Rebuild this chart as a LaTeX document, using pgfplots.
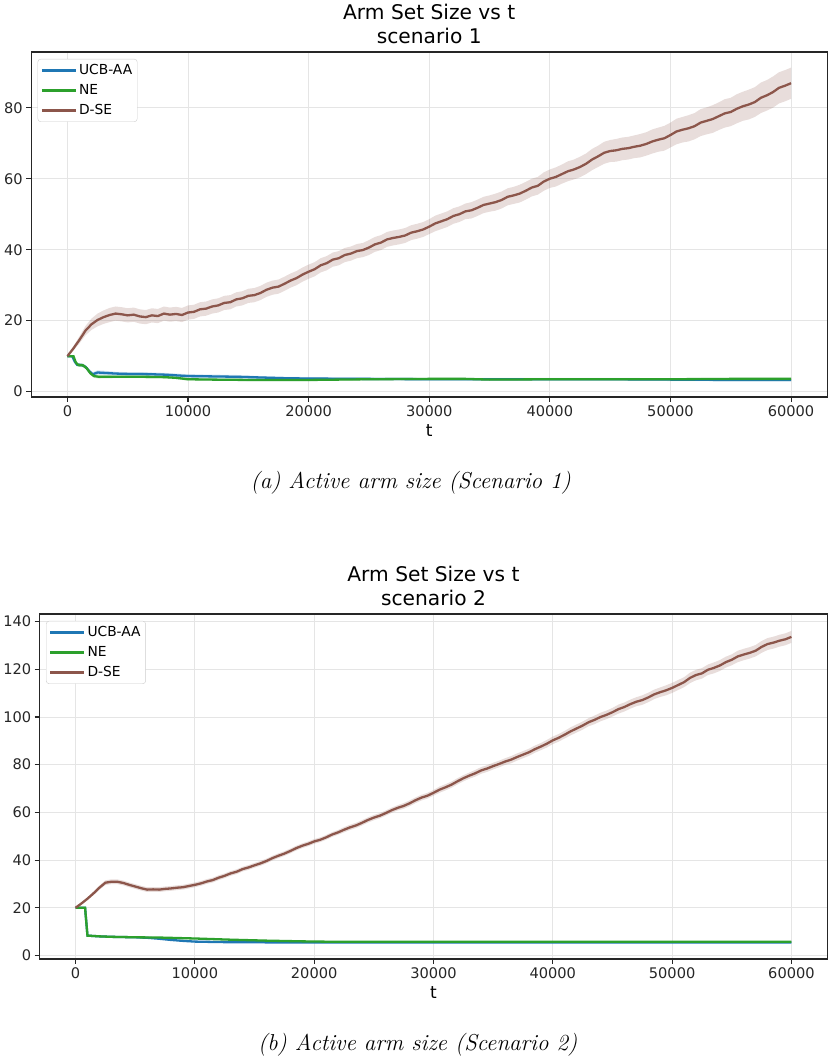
\documentclass[border=0pt]{standalone}
\usepackage{pgfplots}
\pgfplotsset{compat=1.18}
\usepackage{pgfplotstable}
\usepgfplotslibrary{fillbetween}
\usepackage{fontspec}
\newfontfamily\dv{DejaVu Sans}
\definecolor{cblue}{HTML}{1F77B4}
\definecolor{cgreen}{HTML}{2CA02C}
\definecolor{cbrown}{HTML}{8C564B}
\definecolor{axc}{HTML}{262626}

\pgfplotstableread{
t m w
0 10.0 0.2
500 12.2 0.6
1000 14.6 1.0
1500 17.2 1.3
2000 19.0 1.6
2500 20.2 1.8
3000 21.0 1.9
3500 21.6 2.0
4000 22.0 2.0
4500 21.8 2.0
5000 21.5 2.0
5500 21.7 2.0
6000 21.2 2.0
6500 21.0 2.0
7000 21.5 2.0
7500 21.3 2.0
8000 22.0 2.0
8500 21.7 2.0
9000 21.9 2.0
9500 21.6 2.0
10000 22.3 2.0
10500 22.5 2.0
11000 23.2 2.0
11500 23.4 2.0
12000 24.0 2.0
12500 24.3 2.0
13000 25.0 2.0
13500 25.2 2.0
14000 26.0 2.0
14500 26.3 2.0
15000 27.0 2.0
15500 27.2 2.0
16000 27.8 2.0
16500 28.7 2.0
17000 29.3 2.0
17500 29.6 2.0
18000 30.4 2.0
18500 31.3 2.0
19000 32.0 2.0
19500 33.0 2.0
20000 33.8 2.0
20500 34.5 2.0
21000 35.6 2.0
21500 36.2 2.0
22000 37.2 2.0
22500 37.6 2.0
23000 38.5 2.0
23500 38.9 2.0
24000 39.6 2.0
24500 39.9 2.0
25000 40.6 2.1
25500 41.5 2.1
26000 42.0 2.1
26500 42.9 2.1
27000 43.3 2.1
27500 43.6 2.1
28000 44.0 2.1
28500 44.8 2.1
29000 45.2 2.1
29500 45.7 2.1
30000 46.5 2.1
30500 47.4 2.2
31000 48.0 2.2
31500 48.6 2.2
32000 49.5 2.2
32500 50.0 2.2
33000 50.8 2.2
33500 51.1 2.3
34000 51.8 2.3
34500 52.6 2.3
35000 53.0 2.3
35500 53.4 2.4
36000 54.0 2.4
36500 54.9 2.4
37000 55.3 2.4
37500 55.8 2.5
38000 56.6 2.5
38500 57.5 2.5
39000 58.0 2.5
39500 59.2 2.6
40000 60.0 2.6
40500 60.5 2.7
41000 61.3 2.7
41500 62.1 2.8
42000 62.6 2.8
42500 63.3 2.9
43000 64.2 2.9
43500 65.4 3.0
44000 66.3 3.0
44500 67.3 3.1
45000 67.8 3.1
45500 68.0 3.2
46000 68.4 3.2
46500 68.6 3.2
47000 69.0 3.2
47500 69.3 3.3
48000 69.8 3.3
48500 70.5 3.4
49000 71.0 3.4
49500 71.4 3.5
50000 72.3 3.5
50500 73.3 3.6
51000 73.8 3.6
51500 74.2 3.7
52000 74.8 3.7
52500 75.8 3.8
53000 76.3 3.8
53500 76.8 3.9
54000 77.6 3.9
54500 78.4 4.0
55000 78.8 4.0
55500 79.7 4.1
56000 80.4 4.1
56500 80.9 4.2
57000 81.6 4.2
57500 82.8 4.3
58000 83.5 4.3
58500 84.4 4.4
59000 85.6 4.4
59500 86.2 4.4
60000 86.9 4.4
}\dseA

\pgfplotstableread{
t m w
0 10.0 0.1
400 10.0 0.2
600 8.5 0.4
800 7.6 0.5
1200 7.5 0.5
1500 7.0 0.5
1800 5.8 0.6
2100 4.9 0.6
2500 5.4 0.6
3000 5.3 0.6
4000 5.1 0.5
5000 5.0 0.5
6000 5.0 0.5
7000 4.9 0.5
8000 4.8 0.5
9000 4.6 0.5
10000 4.4 0.5
12000 4.3 0.5
14000 4.2 0.5
16000 4.0 0.4
18000 3.8 0.4
20000 3.7 0.4
25000 3.6 0.4
30000 3.5 0.4
35000 3.5 0.4
40000 3.5 0.4
45000 3.5 0.4
50000 3.4 0.4
55000 3.3 0.4
60000 3.3 0.4
}\ucbA

\pgfplotstableread{
t m w
0 10.0 0.1
500 10.0 0.2
700 8.2 0.4
900 7.5 0.5
1300 7.4 0.5
1600 6.6 0.5
1900 5.2 0.5
2200 4.4 0.5
2600 4.2 0.5
4000 4.2 0.4
6000 4.2 0.4
8000 4.1 0.4
9000 3.9 0.4
10000 3.5 0.4
12000 3.4 0.3
15000 3.3 0.3
20000 3.3 0.3
25000 3.5 0.3
30000 3.6 0.3
33000 3.6 0.3
35000 3.4 0.3
40000 3.5 0.3
45000 3.5 0.3
50000 3.5 0.3
55000 3.6 0.3
60000 3.6 0.3
}\neA

\pgfplotstableread{
t m w
0 20.0 0.2
500 21.8 0.4
1000 23.8 0.6
1500 26.0 0.8
2000 28.4 0.9
2500 30.5 1.0
3000 30.9 1.0
3500 30.9 1.0
4000 30.4 1.0
4500 29.6 1.0
5000 28.9 1.0
5500 28.2 1.0
6000 27.6 1.0
6500 27.7 1.0
7000 27.6 1.0
7500 27.9 1.0
8000 28.1 1.0
8500 28.4 1.0
9000 28.6 1.0
9500 29.1 1.0
10000 29.6 1.0
10500 30.2 1.0
11000 31.0 1.0
11500 31.6 1.0
12000 32.6 1.0
12500 33.4 1.0
13000 34.4 1.0
13500 35.1 1.0
14000 36.2 1.0
14500 36.9 1.0
15000 37.8 1.0
15500 38.6 1.0
16000 39.6 1.0
16500 40.8 1.0
17000 41.8 1.0
17500 42.7 1.0
18000 43.8 1.0
18500 45.0 1.0
19000 46.0 1.0
19500 46.8 1.0
20000 47.8 1.0
20500 48.5 1.0
21000 49.5 1.0
21500 50.7 1.0
22000 51.6 1.0
22500 52.7 1.1
23000 53.7 1.1
23500 54.5 1.1
24000 55.6 1.1
24500 56.8 1.1
25000 57.8 1.1
25500 58.6 1.1
26000 59.7 1.1
26500 60.9 1.1
27000 61.9 1.1
27500 62.7 1.2
28000 63.8 1.2
28500 65.1 1.2
29000 66.2 1.2
29500 67.0 1.2
30000 68.2 1.2
30500 69.5 1.3
31000 70.5 1.3
31500 71.6 1.3
32000 73.0 1.3
32500 74.3 1.3
33000 75.4 1.3
33500 76.4 1.4
34000 77.6 1.4
34500 78.4 1.4
35000 79.4 1.4
35500 80.3 1.4
36000 81.3 1.4
36500 82.1 1.5
37000 83.2 1.5
37500 84.2 1.5
38000 85.2 1.5
38500 86.5 1.5
39000 87.6 1.5
39500 88.8 1.6
40000 90.2 1.6
40500 91.3 1.6
41000 92.6 1.6
41500 94.0 1.7
42000 95.2 1.7
42500 96.4 1.7
43000 97.8 1.7
43500 98.8 1.8
44000 100.0 1.8
44500 100.9 1.8
45000 102.0 1.8
45500 103.3 1.9
46000 104.2 1.9
46500 105.4 1.9
47000 106.4 1.9
47500 107.1 2.0
48000 108.2 2.0
48500 109.5 2.0
49000 110.4 2.0
49500 111.2 2.1
50000 112.2 2.1
50500 113.4 2.1
51000 114.6 2.1
51500 116.4 2.2
52000 117.6 2.2
52500 118.3 2.2
53000 119.8 2.2
53500 120.6 2.3
54000 121.6 2.3
54500 123.0 2.3
55000 124.0 2.3
55500 125.4 2.4
56000 126.2 2.4
56500 126.9 2.4
57000 127.8 2.4
57500 129.4 2.5
58000 130.6 2.5
58500 131.2 2.5
59000 132.0 2.5
59500 132.6 2.5
60000 133.6 2.5
}\dseB

\pgfplotstableread{
t m w
0 20.0 0.1
800 20.0 0.1
1000 8.3 0.2
2000 8.0 0.2
3000 7.8 0.2
4000 7.7 0.2
5000 7.6 0.2
6000 7.4 0.2
7000 7.0 0.2
8000 6.5 0.2
9000 6.1 0.2
10000 5.8 0.2
12000 5.6 0.2
15000 5.5 0.2
20000 5.4 0.2
30000 5.4 0.2
40000 5.4 0.2
50000 5.4 0.2
60000 5.4 0.2
}\ucbB

\pgfplotstableread{
t m w
0 20.0 0.1
800 20.0 0.1
1000 8.3 0.2
2000 8.0 0.2
3000 7.8 0.2
5000 7.6 0.2
7000 7.5 0.2
10000 7.1 0.2
13000 6.6 0.2
16000 6.2 0.2
19000 5.9 0.2
22000 5.7 0.2
30000 5.7 0.2
40000 5.7 0.2
50000 5.7 0.2
60000 5.7 0.2
}\neB

\pgfplotsset{
  myax/.style={
    scale only axis,
    anchor=south west,
    xmin=-3000, xmax=63000,
    xtick={0,10000,20000,30000,40000,50000,60000},
    scaled x ticks=false,
    /pgf/number format/assume math mode=true,
    xticklabel style={/pgf/number format/1000 sep={}},
    ticklabel style={font=\fontsize{14.6}{17}\dv, color=axc},
    axis line style={color=axc, line width=1.1pt},
    tick style={color=axc, line width=1.1pt},
    tick align=outside,
    major tick length=5pt,
    xtick pos=bottom, ytick pos=left,
    grid=major,
    major grid style={color=black!10, line width=0.9pt},
    xlabel={t},
    xlabel style={font=\fontsize{17}{20}\dv, yshift=-1pt},
    title style={font=\fontsize{20.2}{23.4}\dv, align=center, yshift=-1pt},
    legend cell align=left,
    legend style={font=\fontsize{13.8}{16}\dv, draw=black!20, rounded corners=3pt,
      anchor=north west, inner xsep=3pt, inner ysep=3.5pt, row sep=4.3pt},
    legend image code/.code={\draw[#1, line width=2.3pt] (0pt,0pt) -- (30pt,0pt); \path (30pt,0pt) -- (34pt,0pt);},
  },
  band/.style={draw=none, fill=#1, fill opacity=0.2, forget plot},
}

\begin{document}
\begin{tikzpicture}
\path (0pt,0pt) rectangle (833pt,1063pt);

\begin{axis}[myax,
  at={(30.5pt,666pt)}, width=796pt, height=345pt,
  ymin=-1.5, ymax=95.7, ytick={0,20,40,60,80},
  title={Arm Set Size vs t\\scenario 1},
  legend style={at={(0.008,0.98)}},
]
\addplot[name path=ua, draw=none, forget plot] table[x=t, y expr=\thisrow{m}+\thisrow{w}] {\ucbA};
\addplot[name path=ul, draw=none, forget plot] table[x=t, y expr=\thisrow{m}-\thisrow{w}] {\ucbA};
\addplot[band=cblue] fill between[of=ua and ul];
\addplot[name path=na, draw=none, forget plot] table[x=t, y expr=\thisrow{m}+\thisrow{w}] {\neA};
\addplot[name path=nl, draw=none, forget plot] table[x=t, y expr=\thisrow{m}-\thisrow{w}] {\neA};
\addplot[band=cgreen] fill between[of=na and nl];
\addplot[name path=da, draw=none, forget plot] table[x=t, y expr=\thisrow{m}+\thisrow{w}] {\dseA};
\addplot[name path=dl, draw=none, forget plot] table[x=t, y expr=\thisrow{m}-\thisrow{w}] {\dseA};
\addplot[band=cbrown] fill between[of=da and dl];
\addplot[cblue, line width=2.3pt] table[x=t, y=m] {\ucbA};
\addlegendentry{UCB-AA}
\addplot[cgreen, line width=2.3pt] table[x=t, y=m] {\neA};
\addlegendentry{NE}
\addplot[cbrown, line width=2.3pt] table[x=t, y=m] {\dseA};
\addlegendentry{D-SE}
\end{axis}

\node[font=\fontsize{23}{27}\selectfont\itshape] at (410pt,580pt) {(a) Active arm size (Scenario 1)};

\begin{axis}[myax,
  at={(39pt,104pt)}, width=787.5pt, height=345pt,
  ymin=-1.5, ymax=143.2, ytick={0,20,40,60,80,100,120,140},
  title={Arm Set Size vs t\\scenario 2},
  legend style={at={(0.008,0.98)}},
]
\addplot[name path=ub, draw=none, forget plot] table[x=t, y expr=\thisrow{m}+\thisrow{w}] {\ucbB};
\addplot[name path=ulb, draw=none, forget plot] table[x=t, y expr=\thisrow{m}-\thisrow{w}] {\ucbB};
\addplot[band=cblue] fill between[of=ub and ulb];
\addplot[name path=nb, draw=none, forget plot] table[x=t, y expr=\thisrow{m}+\thisrow{w}] {\neB};
\addplot[name path=nlb, draw=none, forget plot] table[x=t, y expr=\thisrow{m}-\thisrow{w}] {\neB};
\addplot[band=cgreen] fill between[of=nb and nlb];
\addplot[name path=db, draw=none, forget plot] table[x=t, y expr=\thisrow{m}+\thisrow{w}] {\dseB};
\addplot[name path=dlb, draw=none, forget plot] table[x=t, y expr=\thisrow{m}-\thisrow{w}] {\dseB};
\addplot[band=cbrown] fill between[of=db and dlb];
\addplot[cblue, line width=2.3pt] table[x=t, y=m] {\ucbB};
\addlegendentry{UCB-AA}
\addplot[cgreen, line width=2.3pt] table[x=t, y=m] {\neB};
\addlegendentry{NE}
\addplot[cbrown, line width=2.3pt] table[x=t, y=m] {\dseB};
\addlegendentry{D-SE}
\end{axis}

\node[font=\fontsize{23}{27}\selectfont\itshape] at (417pt,18pt) {(b) Active arm size (Scenario 2)};
\end{tikzpicture}
\end{document}
